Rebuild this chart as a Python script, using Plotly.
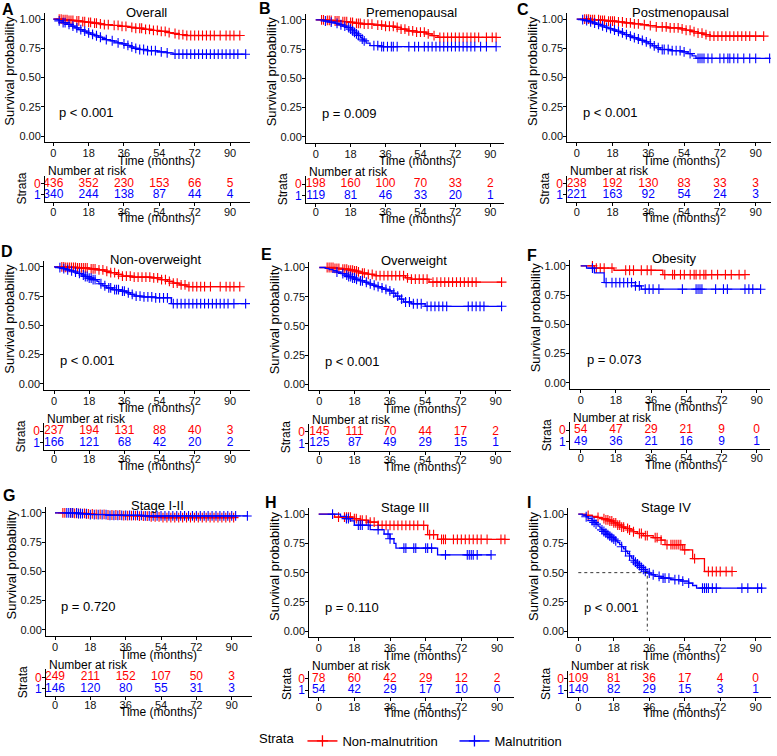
import plotly.graph_objects as go

W, H = 777, 756
RED, BLUE = "#FF0000", "#0000FF"
FONT = "Liberation Sans, Arial, sans-serif"
INK = "#000000"

# ---------------- data ----------------
panel_letters = ["A", "B", "C", "D", "E", "F", "G", "H", "I"]
panel_titles = ["Overall", "Premenopausal", "Postmenopausal", "Non-overweight", "Overweight",
                "Obesity", "Stage I-II", "Stage III", "Stage IV"]
p_values = ["p < 0.001", "p = 0.009", "p < 0.001", "p < 0.001", "p < 0.001",
            "p = 0.073", "p = 0.720", "p = 0.110", "p < 0.001"]
group_names = ["Non-malnutrition", "Malnutrition"]
strata_codes = ["0", "1"]
x_ticks = [0, 18, 36, 54, 72, 90]
y_ticks = [0, 0.25, 0.5, 0.75, 1.0]
risk_times = [0, 18, 36, 54, 72, 90]
risk_nonmal = [[436, 352, 230, 153, 66, 5], [198, 160, 100, 70, 33, 2], [238, 192, 130, 83, 33, 3],
               [237, 194, 131, 88, 40, 3], [145, 111, 70, 44, 17, 2], [54, 47, 29, 21, 9, 0],
               [249, 211, 152, 107, 50, 3], [78, 60, 42, 29, 12, 2], [109, 81, 36, 17, 4, 0]]
risk_mal = [[340, 244, 138, 87, 44, 4], [119, 81, 46, 33, 20, 1], [221, 163, 92, 54, 24, 3],
            [166, 121, 68, 42, 20, 2], [125, 87, 49, 29, 15, 1], [49, 36, 21, 16, 9, 1],
            [146, 120, 80, 55, 31, 3], [54, 42, 29, 17, 10, 0], [140, 82, 29, 15, 3, 1]]

# Kaplan-Meier step data: event times, survival after event, censor times
A_non_t = [5, 8, 11, 14, 17, 20, 23, 26, 30, 34, 38, 42, 46, 50, 54, 58, 61, 64, 67]
A_non_s = [0.995, 0.99, 0.985, 0.978, 0.972, 0.966, 0.96, 0.953, 0.946, 0.938, 0.93, 0.922, 0.912, 0.903, 0.895, 0.885, 0.877, 0.868, 0.86]
A_non_c = [3, 4, 5, 6, 7, 8, 9, 10, 12, 13, 15, 16, 18, 19, 21, 22, 24, 26, 28, 31, 33, 35, 37, 40, 42, 44, 45, 47, 49, 51, 53, 55, 57, 59, 62, 64, 66, 68, 70, 72, 74, 76, 78, 80, 82, 85, 88, 90, 92, 95]
A_mal_t = [2, 3, 5, 7, 9, 11, 13, 15, 17, 19, 21, 23, 25, 27, 29, 31, 33, 35, 37, 39, 41, 44, 48, 53, 58, 61]
A_mal_s = [0.995, 0.985, 0.97, 0.955, 0.94, 0.925, 0.91, 0.897, 0.882, 0.87, 0.858, 0.845, 0.835, 0.825, 0.815, 0.806, 0.797, 0.788, 0.775, 0.762, 0.75, 0.74, 0.73, 0.72, 0.712, 0.70]
A_mal_c = [3, 5, 6, 8, 10, 12, 14, 16, 18, 20, 22, 24, 27, 30, 33, 36, 38, 40, 42, 44, 46, 48, 50, 52, 55, 58, 62, 64, 66, 68, 70, 72, 74, 76, 78, 80, 82, 84, 86, 88, 90, 92, 94, 98]

B_non_t = [5, 9, 13, 17, 20, 24, 30, 36, 41, 44, 47, 52, 57, 60, 63]
B_non_s = [0.995, 0.99, 0.985, 0.978, 0.97, 0.963, 0.955, 0.945, 0.935, 0.92, 0.905, 0.895, 0.88, 0.865, 0.85]
B_non_c = [3, 4, 6, 7, 8, 10, 11, 12, 14, 15, 16, 18, 19, 21, 22, 23, 25, 27, 29, 32, 34, 36, 38, 40, 42, 44, 46, 48, 50, 52, 54, 56, 58, 61, 64, 66, 68, 70, 72, 74, 76, 78, 80, 82, 84, 88, 91, 93]
B_mal_t = [4, 7, 10, 12, 14, 16, 18, 19, 20, 21, 22, 23, 24, 25, 26, 28, 34]
B_mal_s = [0.99, 0.98, 0.97, 0.958, 0.946, 0.934, 0.92, 0.906, 0.893, 0.88, 0.866, 0.85, 0.835, 0.82, 0.8, 0.78, 0.77]
B_mal_c = [5, 8, 11, 13, 15, 17, 18, 19, 20, 21, 22, 24, 25, 30, 32, 34, 35, 37, 39, 40, 42, 48, 51, 53, 56, 58, 60, 62, 64, 66, 68, 70, 72, 74, 76, 78, 80, 82, 85, 88, 93]

C_non_t = [7, 12, 16, 20, 24, 28, 32, 36, 40, 46, 52, 55, 58, 61, 64, 67]
C_non_s = [0.996, 0.99, 0.983, 0.976, 0.968, 0.96, 0.952, 0.944, 0.933, 0.925, 0.917, 0.905, 0.893, 0.88, 0.867, 0.855]
C_non_c = [4, 5, 6, 7, 8, 9, 11, 12, 13, 14, 16, 17, 18, 19, 21, 23, 25, 27, 29, 31, 34, 37, 40, 43, 45, 47, 49, 51, 53, 55, 57, 59, 61, 63, 65, 67, 69, 71, 73, 75, 77, 79, 81, 83, 85, 87, 90, 94]
C_mal_t = [2, 4, 6, 8, 10, 12, 14, 16, 18, 20, 22, 24, 26, 28, 30, 32, 34, 36, 38, 40, 42, 47, 53, 56, 58, 60]
C_mal_s = [0.995, 0.987, 0.977, 0.967, 0.955, 0.942, 0.93, 0.918, 0.907, 0.895, 0.882, 0.868, 0.855, 0.842, 0.83, 0.818, 0.805, 0.79, 0.772, 0.755, 0.74, 0.73, 0.72, 0.705, 0.685, 0.665]
C_mal_c = [3, 5, 7, 9, 11, 13, 15, 17, 19, 21, 23, 25, 27, 29, 31, 33, 35, 37, 39, 41, 43, 44, 46, 48, 50, 52, 54, 57, 61, 62, 63, 64, 66, 68, 72, 74, 76, 77, 79, 81, 84, 87, 90, 97]

D_non_t = [6, 12, 18, 22, 26, 29, 32, 35, 40, 50, 55, 58, 61, 64, 68]
D_non_s = [0.995, 0.99, 0.982, 0.974, 0.962, 0.95, 0.935, 0.92, 0.912, 0.905, 0.89, 0.875, 0.86, 0.845, 0.83]
D_non_c = [4, 5, 6, 7, 8, 9, 10, 11, 12, 13, 14, 15, 16, 17, 19, 20, 21, 23, 25, 27, 29, 31, 33, 35, 37, 39, 41, 43, 45, 47, 49, 51, 53, 55, 57, 59, 61, 63, 65, 67, 69, 71, 73, 75, 77, 80, 85, 88, 90, 92, 95]
D_mal_t = [2, 4, 6, 8, 10, 12, 14, 16, 18, 20, 22, 23, 25, 27, 30, 34, 37, 39, 41, 45, 52, 60]
D_mal_s = [0.993, 0.985, 0.975, 0.965, 0.955, 0.943, 0.93, 0.917, 0.903, 0.89, 0.875, 0.855, 0.838, 0.82, 0.805, 0.792, 0.778, 0.765, 0.75, 0.742, 0.735, 0.685]
D_mal_c = [3, 5, 7, 9, 11, 13, 15, 16, 17, 18, 19, 20, 21, 24, 26, 28, 29, 31, 32, 33, 35, 36, 38, 40, 42, 44, 46, 48, 50, 52, 54, 56, 58, 61, 63, 65, 67, 69, 71, 73, 75, 77, 79, 81, 83, 85, 87, 89, 92, 98]

E_non_t = [8, 12, 15, 18, 20, 22, 25, 28, 44, 47, 56]
E_non_s = [0.993, 0.986, 0.978, 0.97, 0.962, 0.952, 0.942, 0.93, 0.912, 0.9, 0.875]
E_non_c = [4, 5, 6, 7, 8, 9, 10, 12, 13, 14, 15, 16, 17, 18, 19, 20, 22, 23, 25, 27, 29, 31, 33, 35, 37, 39, 41, 43, 45, 47, 49, 51, 53, 55, 58, 60, 62, 64, 66, 68, 70, 72, 74, 76, 78, 80, 93]
E_mal_t = [3, 5, 7, 9, 11, 13, 15, 17, 19, 21, 23, 25, 27, 29, 31, 33, 35, 37, 39, 41, 43, 47, 54]
E_mal_s = [0.993, 0.983, 0.972, 0.96, 0.948, 0.935, 0.922, 0.91, 0.898, 0.886, 0.874, 0.86, 0.848, 0.836, 0.825, 0.813, 0.8, 0.78, 0.755, 0.73, 0.705, 0.69, 0.668]
E_mal_c = [9, 12, 14, 15, 16, 17, 18, 19, 21, 22, 24, 26, 28, 30, 32, 34, 36, 38, 40, 42, 44, 46, 48, 50, 52, 55, 57, 59, 61, 63, 65, 76, 78, 80, 82, 84, 93]

F_non_t = [7, 17, 42]
F_non_s = [0.981, 0.962, 0.925]
F_non_c = [6, 8, 10, 12, 16, 23, 25, 27, 31, 34, 36, 43, 47, 48, 51, 53, 56, 58, 59, 61, 63, 64, 67, 70, 74, 77, 81, 84]
F_mal_t = [3, 7, 12, 28, 31]
F_mal_s = [0.98, 0.939, 0.857, 0.828, 0.80]
F_mal_c = [6, 13, 16, 18, 20, 22, 24, 26, 28, 30, 33, 35, 37, 40, 52, 59, 60, 61, 62, 69, 73, 75, 84, 86, 88, 92]

G_non_t = [10, 16, 20, 26, 35, 42, 48, 54]
G_non_s = [0.996, 0.991, 0.987, 0.982, 0.977, 0.972, 0.966, 0.96]
G_non_c = [4, 5, 8, 9, 10, 11, 12, 13, 15, 16, 17, 19, 21, 23, 25, 27, 29, 31, 33, 35, 37, 39, 41, 43, 45, 47, 49, 51, 53, 55, 57, 59, 61, 63, 65, 67, 69, 71, 73, 75, 77, 79, 81, 83, 85, 87, 89, 91]
G_mal_t = [12, 18, 28, 45]
G_mal_s = [0.993, 0.986, 0.979, 0.974]
G_mal_c = [6, 7, 8, 9, 11, 12, 13, 14, 16, 18, 20, 22, 24, 26, 28, 30, 32, 34, 36, 38, 40, 42, 44, 46, 48, 50, 52, 54, 56, 58, 60, 62, 64, 66, 68, 70, 72, 74, 76, 78, 80, 82, 84, 86, 88, 90, 92, 98]

H_non_t = [8, 17, 21, 25, 30, 55, 60]
H_non_s = [0.975, 0.962, 0.948, 0.932, 0.905, 0.825, 0.785]
H_non_c = [10, 13, 14, 15, 16, 18, 19, 21, 22, 24, 26, 28, 30, 32, 34, 36, 38, 40, 42, 44, 46, 48, 50, 53, 56, 58, 62, 63, 64, 68, 70, 72, 74, 76, 78, 80, 82, 85, 92, 94]
H_mal_t = [11, 14, 16, 18, 26, 33, 36, 38, 39, 60]
H_mal_s = [0.981, 0.962, 0.943, 0.906, 0.868, 0.83, 0.79, 0.75, 0.71, 0.652]
H_mal_c = [7, 14, 15, 20, 21, 22, 25, 30, 35, 36, 43, 44, 48, 49, 54, 55, 57, 64, 75, 76, 77, 78, 80, 87]

I_non_t = [4, 7, 10, 12, 14, 16, 18, 20, 22, 24, 26, 28, 30, 33, 38, 42, 44, 53, 58, 64]
I_non_s = [0.99, 0.981, 0.972, 0.962, 0.952, 0.942, 0.925, 0.907, 0.89, 0.878, 0.865, 0.85, 0.835, 0.817, 0.80, 0.778, 0.74, 0.695, 0.62, 0.51]
I_non_c = [5, 10, 13, 14, 15, 16, 17, 18, 19, 20, 21, 22, 23, 25, 26, 28, 31, 32, 34, 35, 39, 40, 42, 45, 47, 48, 49, 50, 51, 52, 54, 59, 66, 68, 70, 72, 75, 78]
I_mal_t = [2, 4, 5, 7, 8, 9, 10, 11, 12, 13, 14, 15, 16, 17, 18, 19, 20, 21, 22, 23, 24, 25, 26, 27, 28, 29, 30, 31, 32, 33, 34, 35, 37, 39, 42, 47, 52, 56, 58, 60]
I_mal_s = [0.993, 0.978, 0.963, 0.945, 0.93, 0.915, 0.898, 0.882, 0.866, 0.852, 0.838, 0.825, 0.812, 0.8, 0.787, 0.772, 0.757, 0.74, 0.722, 0.703, 0.683, 0.663, 0.643, 0.624, 0.606, 0.59, 0.575, 0.56, 0.545, 0.528, 0.512, 0.497, 0.482, 0.468, 0.453, 0.44, 0.428, 0.41, 0.39, 0.368]
I_mal_c = [4, 7, 8, 9, 12, 13, 14, 15, 16, 17, 18, 19, 22, 24, 26, 28, 29, 30, 31, 32, 33, 34, 36, 38, 41, 43, 44, 46, 49, 51, 53, 56, 63, 64, 65, 66, 68, 70, 83, 86, 91, 93]

curves = [
    ((A_non_t, A_non_s, A_non_c), (A_mal_t, A_mal_s, A_mal_c)),
    ((B_non_t, B_non_s, B_non_c), (B_mal_t, B_mal_s, B_mal_c)),
    ((C_non_t, C_non_s, C_non_c), (C_mal_t, C_mal_s, C_mal_c)),
    ((D_non_t, D_non_s, D_non_c), (D_mal_t, D_mal_s, D_mal_c)),
    ((E_non_t, E_non_s, E_non_c), (E_mal_t, E_mal_s, E_mal_c)),
    ((F_non_t, F_non_s, F_non_c), (F_mal_t, F_mal_s, F_mal_c)),
    ((G_non_t, G_non_s, G_non_c), (G_mal_t, G_mal_s, G_mal_c)),
    ((H_non_t, H_non_s, H_non_c), (H_mal_t, H_mal_s, H_mal_c)),
    ((I_non_t, I_non_s, I_non_c), (I_mal_t, I_mal_s, I_mal_c)),
]

# ---------------- layout geometry (pixels) ----------------
# left axis line, px of t=0, px of t=90, right edge, px of S=1.00, letter x, letter y, title x
GEOM = [
    (45, 53.3, 230, 250, 19.3, 7.5, 10, 146),
    (306, 315.7, 490.3, 504, 20, 265, 9, 411),
    (567.3, 576.7, 755.7, 771, 19.3, 523, 10, 680.8),
    (44.3, 54, 230, 250, 269.3, 6.5, 254, 155.8),
    (309.3, 319.3, 495.7, 511, 270, 266, 257, 414.2),
    (570, 580.7, 756.7, 770, 268.3, 532, 258, 674.2),
    (46, 55, 231.7, 251.7, 517.7, 9, 500, 157.5),
    (309.3, 318.7, 497, 514, 519, 271, 507, 404.8),
    (568.3, 578.3, 755.7, 771, 519, 529, 507, 665.7),
]
PPU = 118.0  # pixels per survival unit
COLORS = [RED, BLUE]


def surv_at(ts, ss, x):
    v = 1.0
    for tt, sv in zip(ts, ss):
        if tt <= x:
            v = sv
    return v


def px(x):
    return x / W


def py(y):
    return 1 - y / H


def ann(x, y, text, size, xref="paper", yref="paper", xanchor="center", angle=0, bold=False):
    return dict(x=x, y=y, xref=xref, yref=yref, text=f"<b>{text}</b>" if bold else text,
                xanchor=xanchor, yanchor="middle", textangle=angle, showarrow=False,
                font=dict(family=FONT, size=size, color=INK))


fig = go.Figure()
annotations = []
layout_axes = {}

for i in range(9):
    left, x0, x90, right, y1, lx, ly, tx = GEOM[i]
    s = (x90 - x0) / 90.0
    xr = [(left - x0) / s, (right - x0) / s]
    mtop, mbot = y1 - 0.05 * PPU, y1 + 1.05 * PPU
    ttop, tbot = y1 + 158, y1 + 185
    mi, ti = 2 * i + 1, 2 * i + 2
    mx, my = f"x{mi}", f"y{mi}"
    tx_, ty_ = f"x{ti}", f"y{ti}"

    axis_common = dict(showgrid=False, zeroline=False, showline=True, linecolor=INK, linewidth=1,
                       ticks="outside", ticklen=3, tickwidth=1, tickcolor=INK,
                       tickfont=dict(family=FONT, size=11, color="#111111"))
    layout_axes["xaxis" if mi == 1 else f"xaxis{mi}"] = dict(
        axis_common, domain=[px(left), px(right)], range=xr, anchor=my, ticklabelstandoff=-2,
        tickvals=x_ticks, ticktext=[str(v) for v in x_ticks])
    layout_axes[f"yaxis{mi}"] = dict(
        axis_common, domain=[py(mbot), py(mtop)], range=[-0.05, 1.05], anchor=mx,
        ticklabelstandoff=-2,
        tickvals=y_ticks, ticktext=[f"{v:.2f}" for v in y_ticks])
    layout_axes[f"xaxis{ti}"] = dict(
        axis_common, domain=[px(left), px(right)], range=xr, anchor=ty_, ticklabelstandoff=-4,
        tickvals=x_ticks, ticktext=[str(v) for v in x_ticks])
    layout_axes[f"yaxis{ti}"] = dict(
        axis_common, domain=[py(tbot), py(ttop)], range=[-0.652, 1.696], anchor=tx_,
        ticklabelstandoff=-2, tickvals=[1, 0],
        ticktext=[f"<span style='color:{RED}'>{strata_codes[0]}</span>",
                  f"<span style='color:{BLUE}'>{strata_codes[1]}</span>"],
        tickfont=dict(family=FONT, size=12))

    # curves
    for g in range(2):
        ts, ss, cs = curves[i][g]
        end = max(max(cs), max(ts))
        fig.add_trace(go.Scatter(
            x=[0] + list(ts) + [end], y=[1.0] + list(ss) + [ss[-1]],
            mode="lines", line=dict(color=COLORS[g], width=1.3, shape="hv"),
            xaxis=mx, yaxis=my, showlegend=False, hoverinfo="skip"))
        fig.add_trace(go.Scatter(
            x=cs, y=[surv_at(ts, ss, c) for c in cs], mode="markers",
            marker=dict(symbol="cross-thin", size=7, line=dict(color=COLORS[g], width=1.1)),
            xaxis=mx, yaxis=my, showlegend=False, hoverinfo="skip"))
        # median survival line
        med = next((tt for tt, sv in zip(ts, ss) if sv < 0.5), None)
        if med is not None:
            fig.add_trace(go.Scatter(
                x=[0, med, med], y=[0.5, 0.5, 0], mode="lines",
                line=dict(color=INK, width=0.8, dash="3px,3px"),
                xaxis=mx, yaxis=my, showlegend=False, hoverinfo="skip"))

    # risk table
    for g, vals in enumerate([risk_nonmal[i], risk_mal[i]]):
        fig.add_trace(go.Scatter(
            x=risk_times, y=[1 - g] * len(risk_times), mode="text",
            text=[str(v) for v in vals],
            textfont=dict(family=FONT, size=12, color=COLORS[g]),
            xaxis=tx_, yaxis=ty_, showlegend=False, hoverinfo="skip"))

    annotations += [
        ann(px(lx), py(ly), panel_letters[i], 16, bold=True),
        ann(px(tx), py(y1 - 7), panel_titles[i], 13),
        ann(2, 0.2, p_values[i], 13, xref=mx, yref=my, xanchor="left"),
        ann(52.5, py(y1 + 143), "Time (months)", 12, xref=mx),
        ann(52.5, py(y1 + 201), "Time (months)", 12, xref=mx),
        ann(px(left + 1), py(y1 + 153.5), "Number at risk", 12, xanchor="left"),
        ann(px(left - 35), py(y1 + 52), "Survival probability", 13, angle=-90),
        ann(px(left - 23), py(y1 + 171), "Strata", 12, angle=-90),
    ]

# legend entries
for g in range(2):
    fig.add_trace(go.Scatter(
        x=[None], y=[None], mode="lines+markers", name=group_names[g],
        line=dict(color=COLORS[g], width=1.5),
        marker=dict(symbol="cross-thin", size=8, line=dict(color=COLORS[g], width=1.3)),
        xaxis="x", yaxis="y", showlegend=True))

fig.update_layout(
    width=W, height=H, margin=dict(l=0, r=0, t=0, b=0),
    plot_bgcolor="white", paper_bgcolor="white",
    font=dict(family=FONT, color=INK),
    annotations=annotations,
    legend=dict(orientation="h", x=px(257), y=py(748), xanchor="left", yanchor="middle",
                entrywidth=107,
                title=dict(text="Strata", font=dict(family=FONT, size=13)),
                font=dict(family=FONT, size=13), bgcolor="rgba(0,0,0,0)"),
    **layout_axes,
)

fig.write_html("out.html", config={"displayModeBar": False},
               post_script="document.body.style.margin='0px';")
